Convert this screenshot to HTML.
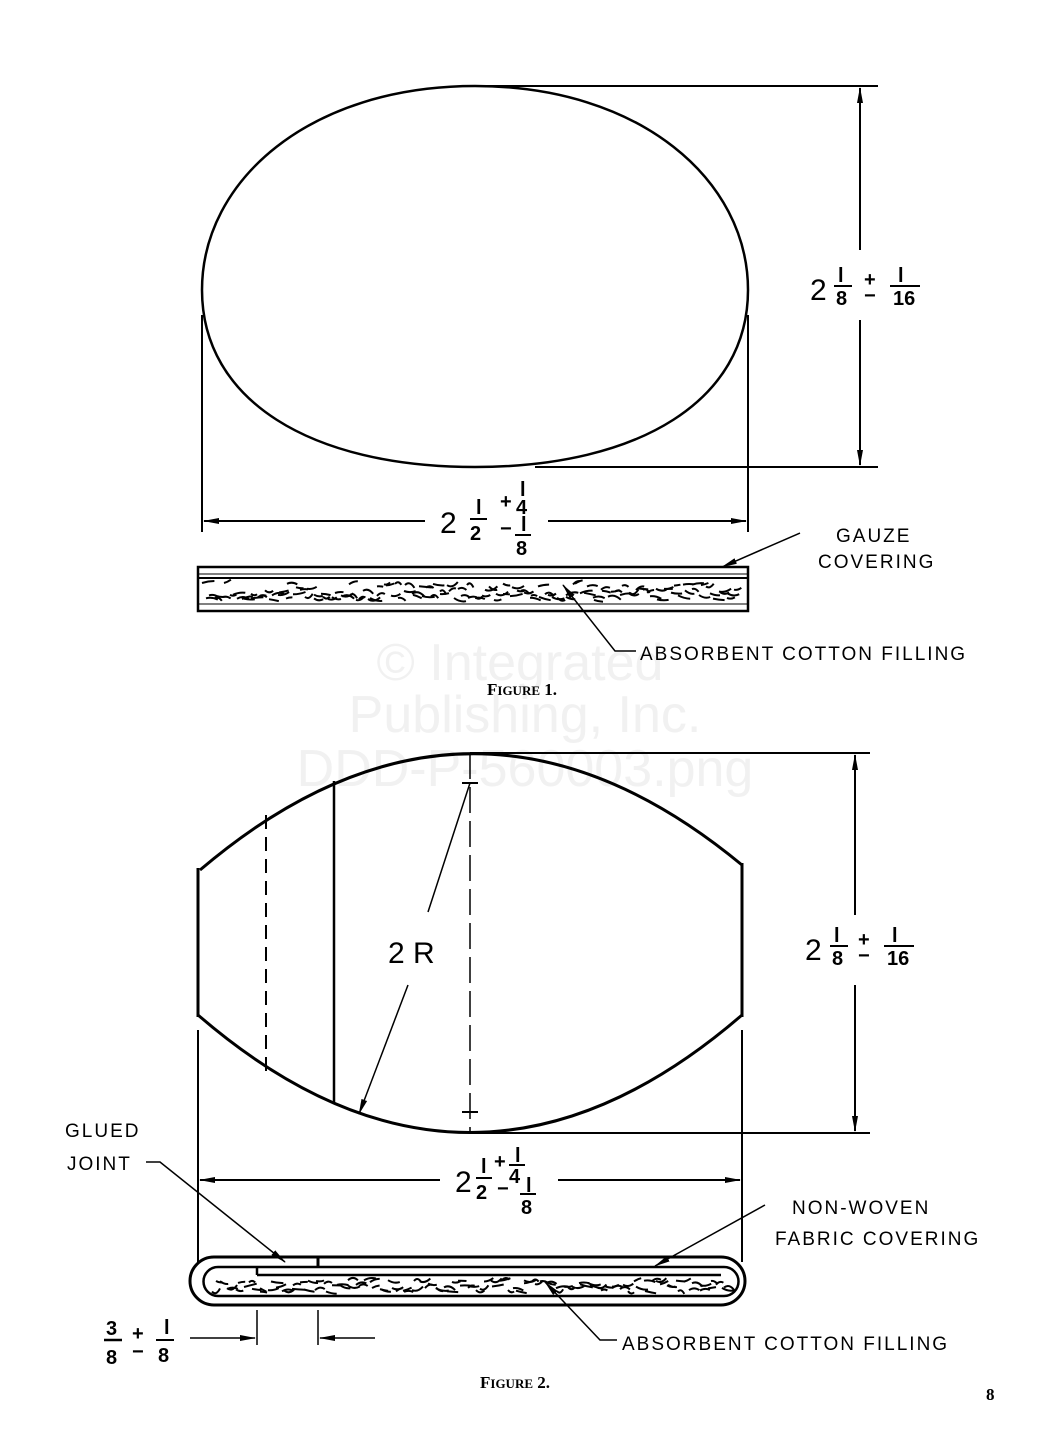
<!DOCTYPE html>
<html><head><meta charset="utf-8"><style>
html,body{margin:0;padding:0;background:#fff;width:1052px;height:1436px;overflow:hidden}
svg{display:block}
text{font-family:"Liberation Sans",sans-serif;fill:#000}
.lbl{font-size:19px;letter-spacing:2px}
.big{font-size:30px}
.sm{font-size:20px;font-weight:bold}
.fig{font-family:"Liberation Serif",serif;font-size:17px;font-weight:bold}
.wm{font-size:52px;fill:#f1f1f1}
</style></head><body>
<svg width="1052" height="1436" viewBox="0 0 1052 1436" xmlns="http://www.w3.org/2000/svg">
<defs>
<marker id="a" markerWidth="16" markerHeight="8" refX="15" refY="4" orient="auto" markerUnits="userSpaceOnUse"><path d="M0,1 L16,4 L0,7z" fill="#000"/></marker>
</defs>
<text class="wm" x="520" y="680" text-anchor="middle">© Integrated</text>
<text class="wm" x="525" y="732" text-anchor="middle">Publishing, Inc.</text>
<text class="wm" x="525" y="786" text-anchor="middle">DDD-P-560003.png</text>

<g stroke="#000" fill="none" stroke-width="2">
<!-- Figure 1 -->
<path d="M475,86 C640,86 748,180 748,290 C748,400 640,467 475,467 C310,467 202,400 202,290 C202,180 310,86 475,86Z" stroke-width="2.5"/>
<line x1="480" y1="86" x2="878" y2="86"/>
<line x1="535" y1="467" x2="878" y2="467"/>
<line x1="860" y1="250" x2="860" y2="88" marker-end="url(#a)"/>
<line x1="860" y1="320" x2="860" y2="465" marker-end="url(#a)"/>
<line x1="202" y1="315" x2="202" y2="532"/>
<line x1="748" y1="315" x2="748" y2="532"/>
<line x1="425" y1="521" x2="204" y2="521" marker-end="url(#a)"/>
<line x1="548" y1="521" x2="746" y2="521" marker-end="url(#a)"/>
<rect x="198" y="567" width="550" height="44" stroke-width="2.5"/>
<line x1="198" y1="574" x2="748" y2="574" stroke-width="1"/>
<line x1="198" y1="578" x2="748" y2="578" stroke-width="2"/>
<line x1="198" y1="604" x2="748" y2="604" stroke-width="1"/>
<line x1="800" y1="533" x2="722" y2="567" stroke-width="1.5" marker-end="url(#a)"/>
<polyline points="636,651 615,651 563,585" stroke-width="1.5" marker-end="url(#a)"/>
<g id="f1" stroke-width="2"></g>

<!-- Figure 2 -->
<path d="M200,870 Q470,640 742,865" stroke-width="3"/>
<path d="M198,1015 Q470,1250 742,1015" stroke-width="3"/>
<line x1="198" y1="868" x2="198" y2="1017" stroke-width="3"/>
<line x1="742" y1="863" x2="742" y2="1017" stroke-width="3"/>
<line x1="266" y1="815" x2="266" y2="1072" stroke-dasharray="14,8"/>
<line x1="334" y1="781" x2="334" y2="1103" stroke-width="2.5"/>
<line x1="470" y1="753" x2="470" y2="1133" stroke-dasharray="26,8" stroke-width="1.5"/>
<line x1="462" y1="783" x2="478" y2="783"/>
<line x1="462" y1="1112" x2="478" y2="1112"/>
<line x1="470" y1="783" x2="428" y2="912" stroke-width="1.5"/>
<line x1="408" y1="985" x2="359" y2="1114" stroke-width="1.5" marker-end="url(#a)"/>
<line x1="470" y1="753" x2="870" y2="753"/>
<line x1="470" y1="1133" x2="870" y2="1133"/>
<line x1="855" y1="915" x2="855" y2="755" marker-end="url(#a)"/>
<line x1="855" y1="985" x2="855" y2="1131" marker-end="url(#a)"/>
<line x1="198" y1="1030" x2="198" y2="1262"/>
<line x1="742" y1="1030" x2="742" y2="1262"/>
<line x1="440" y1="1180" x2="200" y2="1180" marker-end="url(#a)"/>
<line x1="558" y1="1180" x2="740" y2="1180" marker-end="url(#a)"/>
<path d="M318,1257 L214,1257 A24,24 0 0 0 214,1305 L721,1305 A24,24 0 0 0 721,1257 L318,1257 L318,1267" stroke-width="3"/>
<path d="M257,1275 L721,1275" stroke-width="2.5"/>
<path d="M257,1275 L257,1267 L218,1267 A14,14 0 0 0 218,1296 L724,1296 A14.5,14.5 0 0 0 724,1267 L257,1267" stroke-width="2.5"/>
<line x1="257" y1="1310" x2="257" y2="1345" stroke-width="1.5"/>
<line x1="318" y1="1310" x2="318" y2="1345" stroke-width="1.5"/>
<line x1="190" y1="1338" x2="255" y2="1338" stroke-width="1.5" marker-end="url(#a)"/>
<line x1="375" y1="1338" x2="320" y2="1338" stroke-width="1.5" marker-end="url(#a)"/>
<polyline points="146,1162 160,1162 285,1262" stroke-width="1.5" marker-end="url(#a)"/>
<line x1="765" y1="1205" x2="655" y2="1266" stroke-width="1.5" marker-end="url(#a)"/>
<polyline points="617,1340 600,1340 545,1282" stroke-width="1.5" marker-end="url(#a)"/>
<g id="f2" stroke-width="2"></g>
</g>

<!-- Labels fig 1 -->
<text class="big" x="810" y="300">2</text>
<text class="sm" x="838" y="282">l</text><line x1="834" y1="286" x2="852" y2="286" stroke="#000" stroke-width="2"/><text class="sm" x="836" y="305">8</text>
<text class="sm" x="864" y="286">+</text><text class="sm" x="864" y="302">−</text>
<text class="sm" x="898" y="282">l</text><line x1="890" y1="286" x2="920" y2="286" stroke="#000" stroke-width="2"/><text class="sm" x="893" y="305">16</text>

<text class="big" x="440" y="533">2</text>
<text class="sm" x="476" y="514">l</text><line x1="470" y1="519" x2="487" y2="519" stroke="#000" stroke-width="2"/><text class="sm" x="470" y="540">2</text>
<text class="sm" x="500" y="508">+</text><text class="sm" x="520" y="496">l</text><text class="sm" x="516" y="514">4</text>
<text class="sm" x="500" y="535">−</text><text class="sm" x="521" y="531">l</text><line x1="515" y1="535" x2="531" y2="535" stroke="#000" stroke-width="2"/><text class="sm" x="516" y="555">8</text>

<text class="lbl" x="836" y="542">GAUZE</text>
<text class="lbl" x="818" y="568">COVERING</text>
<text class="lbl" x="640" y="660">ABSORBENT COTTON FILLING</text>
<text class="fig" x="487" y="695">F<tspan font-size="13">IGURE</tspan> 1.</text>

<!-- Labels fig 2 -->
<text class="big" x="388" y="963">2 R</text>
<text class="big" x="805" y="960">2</text>
<text class="sm" x="834" y="942">l</text><line x1="830" y1="946" x2="848" y2="946" stroke="#000" stroke-width="2"/><text class="sm" x="832" y="965">8</text>
<text class="sm" x="858" y="946">+</text><text class="sm" x="858" y="962">−</text>
<text class="sm" x="892" y="942">l</text><line x1="884" y1="946" x2="914" y2="946" stroke="#000" stroke-width="2"/><text class="sm" x="887" y="965">16</text>

<text class="big" x="455" y="1192">2</text>
<text class="sm" x="481" y="1173">l</text><line x1="476" y1="1178" x2="492" y2="1178" stroke="#000" stroke-width="2"/><text class="sm" x="476" y="1199">2</text>
<text class="sm" x="494" y="1168">+</text><text class="sm" x="515" y="1162">l</text><line x1="509" y1="1165" x2="525" y2="1165" stroke="#000" stroke-width="2"/><text class="sm" x="509" y="1183">4</text>
<text class="sm" x="497" y="1195">−</text><text class="sm" x="526" y="1192">l</text><line x1="520" y1="1194" x2="536" y2="1194" stroke="#000" stroke-width="2"/><text class="sm" x="521" y="1214">8</text>

<text class="lbl" x="65" y="1137">GLUED</text>
<text class="lbl" x="67" y="1170">JOINT</text>
<text class="lbl" x="792" y="1214">NON-WOVEN</text>
<text class="lbl" x="775" y="1245">FABRIC COVERING</text>
<text class="lbl" x="622" y="1350">ABSORBENT COTTON FILLING</text>
<text class="sm" x="106" y="1335">3</text><line x1="104" y1="1340" x2="122" y2="1340" stroke="#000" stroke-width="2.5"/><text class="sm" x="106" y="1364">8</text>
<text class="sm" x="132" y="1340">+</text><text class="sm" x="132" y="1358">−</text>
<text class="sm" x="164" y="1334">l</text><line x1="156" y1="1340" x2="174" y2="1340" stroke="#000" stroke-width="2"/><text class="sm" x="158" y="1362">8</text>
<text class="fig" x="480" y="1388">F<tspan font-size="13">IGURE</tspan> 2.</text>
<text class="fig" x="986" y="1400" font-size="19">8</text>
</svg>
<script>
(function(){
var s=7;function r(){s=(s*16807)%2147483647;return s/2147483647;}
function fill(id,x0,x1,y0,y1,step){var g=document.getElementById(id),d="";
for(var x=x0;x<x1;x+=step){var y=y0+r()*(y1-y0-6)+3;var w=6+r()*7;var c=(r()-.5)*9;
d+="M"+x.toFixed(1)+","+y.toFixed(1)+" q"+(w/2).toFixed(1)+","+c.toFixed(1)+" "+w.toFixed(1)+","+((r()-.5)*7).toFixed(1)+" ";}
var p=document.createElementNS("http://www.w3.org/2000/svg","path");p.setAttribute("d",d);g.appendChild(p);}
fill("f1",202,740,580,603,7);fill("f1",206,736,580,603,9);
fill("f2",212,728,1277,1295,8);fill("f2",216,724,1277,1295,11);
})();
</script>
</body></html>
